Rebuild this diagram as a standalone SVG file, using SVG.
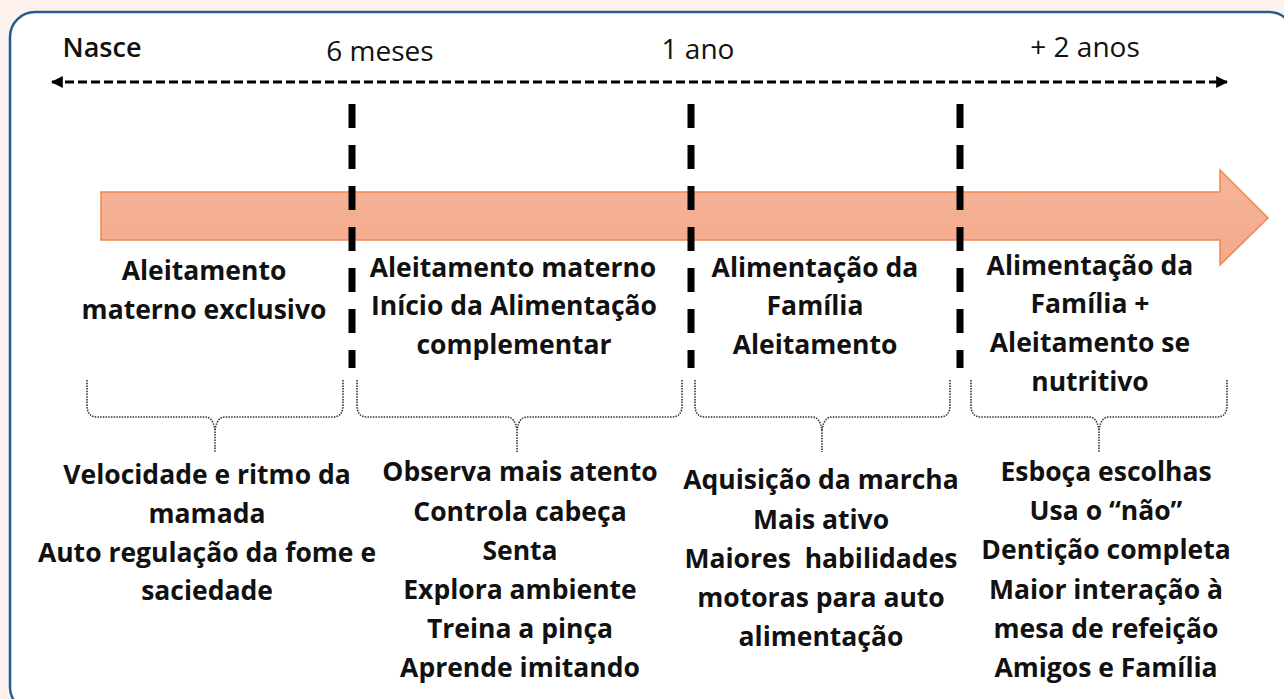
<svg xmlns="http://www.w3.org/2000/svg" width="1284" height="699" viewBox="0 0 1284 699">
<defs>
<style>
.t{font-family:"Open Sans","Lato","Liberation Sans",sans-serif;font-weight:700;font-size:26.5px;fill:#111;text-anchor:middle}
.h{font-family:"Open Sans","Lato","Liberation Sans",sans-serif;font-weight:500;font-size:28px;fill:#111;text-anchor:middle}
.vd{stroke:#000;stroke-width:7;stroke-dasharray:24 17;fill:none}
.br{stroke:#333;stroke-width:1.6;stroke-dasharray:1.5 1.2;fill:none}
</style>
<marker id="ah" viewBox="0 0 10 10" refX="9" refY="5" markerWidth="4" markerHeight="4" orient="auto-start-reverse">
<path d="M0,0 L10,5 L0,10 z" fill="#000"/>
</marker>
<linearGradient id="ag" x1="0" y1="0" x2="0" y2="1">
<stop offset="0" stop-color="#f6b59a"/>
<stop offset="1" stop-color="#f3a98a"/>
</linearGradient>
</defs>
<rect x="0" y="0" width="1284" height="699" fill="#fcf1ec"/>
<rect x="10" y="12" width="1284" height="700" rx="25" fill="#fff" stroke="#1f5c99" stroke-width="2.5"/>

<g id="connectors">
<line x1="52" y1="82" x2="1227" y2="82" stroke="#000" stroke-width="3" stroke-dasharray="9 4" marker-start="url(#ah)" marker-end="url(#ah)"/>
<path id="timeline-arrow" d="M101,192 L1220,192 L1220,170 L1268,218 L1220,265 L1220,240 L101,240 z" fill="url(#ag)" stroke="#f08550" stroke-width="1.5"/>
<line class="vd" x1="352" y1="104" x2="352" y2="368"/>
<line class="vd" x1="691" y1="104" x2="691" y2="368"/>
<line class="vd" x1="960" y1="104" x2="960" y2="368"/>
<path class="br" d="M87,380 L87,405 Q87,417 97,417 L205,417 Q213,417 215,430 L215,452"/>
<path class="br" d="M343,380 L343,405 Q343,417 333,417 L225,417 Q217,417 215,430"/>
<path class="br" d="M357,380 L357,405 Q357,417 367,417 L507,417 Q515,417 517,430 L517,452"/>
<path class="br" d="M682,380 L682,405 Q682,417 672,417 L527,417 Q519,417 517,430"/>
<path class="br" d="M695,380 L695,405 Q695,417 705,417 L812,417 Q820,417 822,430 L822,452"/>
<path class="br" d="M950,380 L950,405 Q950,417 940,417 L832,417 Q824,417 822,430"/>
<path class="br" d="M971,380 L971,405 Q971,417 981,417 L1089,417 Q1097,417 1099,430 L1099,452"/>
<path class="br" d="M1227,380 L1227,405 Q1227,417 1217,417 L1109,417 Q1101,417 1099,430"/>
</g>

<g id="time-labels">
<text class="h" x="102" y="57" style="font-size:27px;font-weight:600">Nasce</text>
<text class="h" x="380" y="61">6 meses</text>
<text class="h" x="698" y="59">1 ano</text>
<text class="h" x="1085" y="57">+ 2 anos</text>
</g>

<g id="phase-1">
<text class="t" x="204" y="280">Aleitamento</text>
<text class="t" x="204" y="319">materno exclusivo</text>
</g>
<g id="phase-2">
<text class="t" x="513" y="277">Aleitamento materno</text>
<text class="t" x="514" y="315">Início da Alimentação</text>
<text class="t" x="514" y="354">complementar</text>
</g>
<g id="phase-3">
<text class="t" x="815" y="277">Alimentação da</text>
<text class="t" x="815" y="315">Família</text>
<text class="t" x="815" y="354">Aleitamento</text>
</g>
<g id="phase-4">
<text class="t" x="1090" y="275">Alimentação da</text>
<text class="t" x="1090" y="313">Família +</text>
<text class="t" x="1090" y="352">Aleitamento se</text>
<text class="t" x="1090" y="391">nutritivo</text>
</g>

<g id="dev-1">
<text class="t" x="207" y="484">Velocidade e ritmo da</text>
<text class="t" x="207" y="523">mamada</text>
<text class="t" x="207" y="562">Auto regulação da fome e</text>
<text class="t" x="207" y="600">saciedade</text>
</g>
<g id="dev-2">
<text class="t" x="520" y="481">Observa mais atento</text>
<text class="t" x="520" y="521">Controla cabeça</text>
<text class="t" x="520" y="560">Senta</text>
<text class="t" x="520" y="599">Explora ambiente</text>
<text class="t" x="520" y="638">Treina a pinça</text>
<text class="t" x="520" y="677">Aprende imitando</text>
</g>
<g id="dev-3">
<text class="t" x="821" y="489">Aquisição da marcha</text>
<text class="t" x="821" y="529">Mais ativo</text>
<text class="t" x="821" y="568" style="white-space:pre">Maiores  habilidades</text>
<text class="t" x="821" y="607">motoras para auto</text>
<text class="t" x="821" y="646">alimentação</text>
</g>
<g id="dev-4">
<text class="t" x="1106" y="481">Esboça escolhas</text>
<text class="t" x="1106" y="520">Usa o “não”</text>
<text class="t" x="1106" y="559">Dentição completa</text>
<text class="t" x="1106" y="599">Maior interação à</text>
<text class="t" x="1106" y="638">mesa de refeição</text>
<text class="t" x="1106" y="677">Amigos e Família</text>
</g>
</svg>
